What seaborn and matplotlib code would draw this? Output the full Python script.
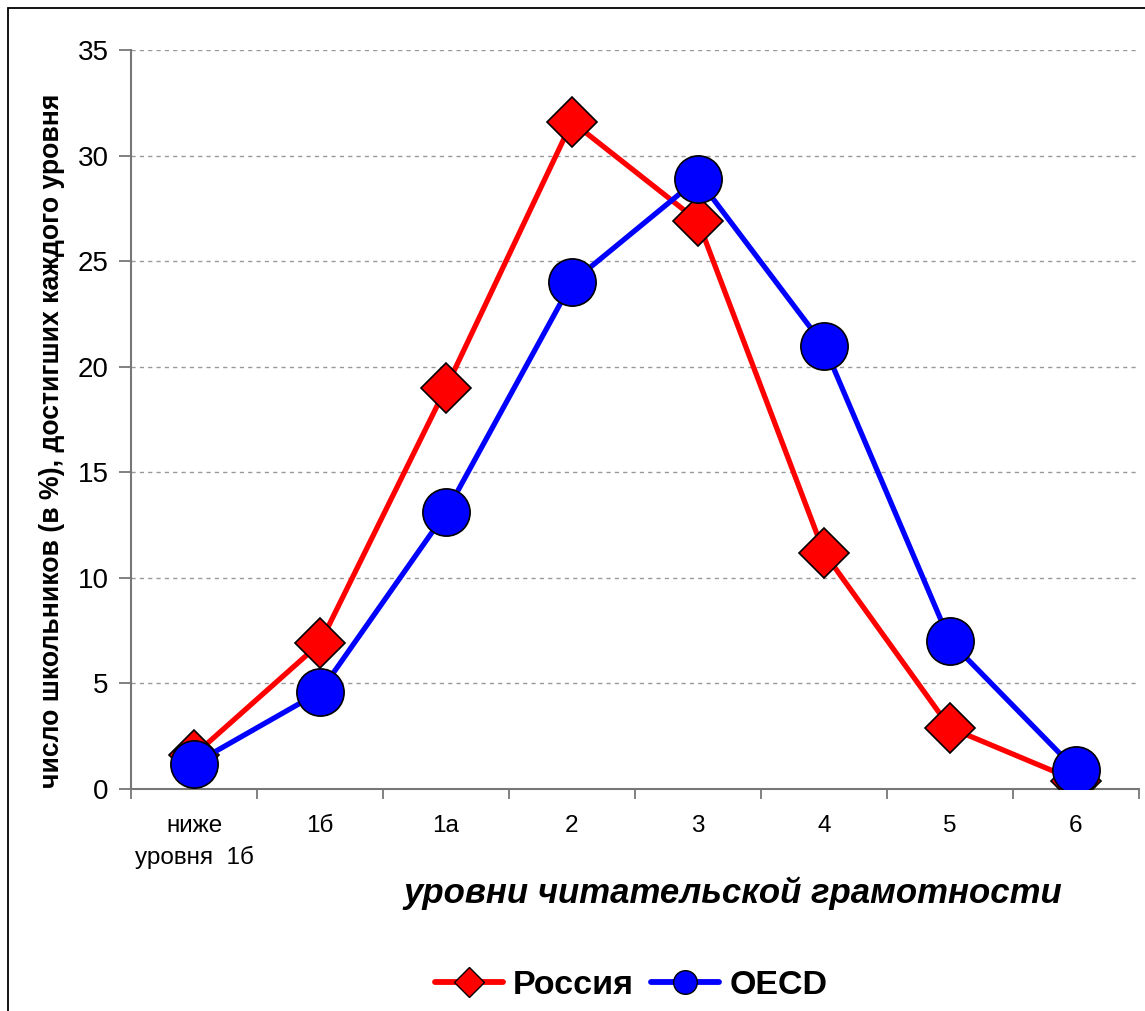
import numpy as np
import pandas as pd
import matplotlib
matplotlib.use("Agg")
import matplotlib.pyplot as plt
from matplotlib.lines import Line2D
from matplotlib.patches import Rectangle
from matplotlib.ticker import FixedLocator, NullFormatter
import seaborn as sns

# Reading-literacy proficiency levels and share of students (%) at each level
levels = ["ниже\nуровня  1б", "1б", "1а", "2", "3", "4", "5", "6"]
russia = [1.6, 6.9, 19.0, 31.6, 26.9, 11.2, 2.9, 0.4]
oecd = [1.2, 4.6, 13.1, 24.0, 28.9, 21.0, 7.0, 0.9]
series_names = ["Россия", "OECD"]
y_ticks = [0, 5, 10, 15, 20, 25, 30, 35]

df = pd.DataFrame({
    "level": pd.Categorical(levels * 2, categories=levels, ordered=True),
    "value": russia + oecd,
    "series": [series_names[0]] * len(levels) + [series_names[1]] * len(levels),
})
df["pos"] = df["level"].cat.codes

sns.set_theme(style="white")
plt.rcParams["font.family"] = ["Liberation Sans", "DejaVu Sans"]

fig = plt.figure(figsize=(11.45, 10.11), dpi=100)
ax = fig.add_axes([131 / 1145, 1 - 789 / 1011, 1008 / 1145, 739 / 1011])

colors = {"Россия": "#FF0000", "OECD": "#0000FF"}
markers = {"Россия": "D", "OECD": "o"}
msizes = {"Россия": 25, "OECD": 34}

for name in series_names:
    sub = df[df["series"] == name]
    sns.lineplot(
        data=sub, x="pos", y="value", ax=ax, color=colors[name],
        marker=markers[name], markersize=msizes[name],
        markeredgecolor="black", markeredgewidth=1.2,
        linewidth=3.8, sort=False, legend=False, zorder=3,
    )

ax.set_xlim(-0.5, len(levels) - 0.5)
ax.set_ylim(0, 35)
ax.set_yticks(y_ticks)
ax.set_xticks(range(len(levels)))
ax.set_xticklabels(levels, fontsize=17.5, linespacing=1.45, color="black")
ax.xaxis.set_minor_locator(FixedLocator(np.arange(-0.5, len(levels), 1.0)))
ax.xaxis.set_minor_formatter(NullFormatter())
ax.tick_params(axis="x", which="major", length=0, pad=19)
ax.tick_params(axis="x", which="minor", length=7, width=1.3, color="#777777",
               direction="out", bottom=True)
ax.tick_params(axis="y", length=9, width=1.3, color="#777777", direction="out",
               left=True, labelsize=20, pad=7, labelcolor="black")

ax.yaxis.grid(True, linestyle=(0, (3, 3)), color="#999999", linewidth=1.0)
ax.xaxis.grid(False)
for side in ["top", "right"]:
    ax.spines[side].set_visible(False)
for side in ["left", "bottom"]:
    ax.spines[side].set_color("#777777")
    ax.spines[side].set_linewidth(1.5)

ax.set_ylabel("число школьников (в %), достигших каждого уровня",
              fontsize=19.2, fontweight="bold", color="black")
ax.yaxis.set_label_coords(-0.078, 0.471)
ax.yaxis.label.set_va("center")
ax.set_xlabel("уровни читательской грамотности", fontsize=25,
              fontweight="bold", fontstyle="italic", color="black")
ax.xaxis.set_label_coords(0.597, -0.141)
ax.xaxis.label.set_va("center")

handles = [
    Line2D([], [], color=colors[n], linewidth=4.2, marker=markers[n],
           markersize=(15 if n == "Россия" else 17), markeredgecolor="black",
           markeredgewidth=1.0)
    for n in series_names
]
fig.legend(handles, series_names, loc="center", bbox_to_anchor=(0.551, 0.025),
           ncol=2, frameon=False, handlelength=2.0, handletextpad=0.3,
           columnspacing=0.5, prop={"size": 24.5, "weight": "bold"},
           labelcolor="black")

fig.patches.append(Rectangle((8 / 1145, -0.01), 1.05, 1 - 8 / 1011 + 0.01,
                             transform=fig.transFigure, fill=False,
                             edgecolor="black", linewidth=1.3))

fig.savefig("out.png", dpi=100)
